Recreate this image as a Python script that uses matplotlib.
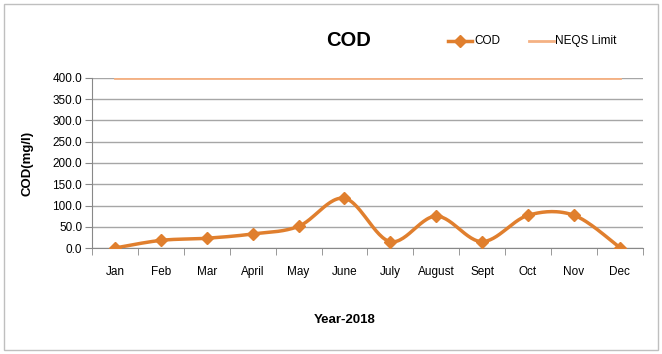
import numpy as np
import matplotlib.pyplot as plt
from matplotlib.patches import Rectangle

months = ["Jan", "Feb", "Mar", "April", "May", "June", "July",
          "August", "Sept", "Oct", "Nov", "Dec"]
cod = [0.0, 18.0, 23.0, 33.0, 51.0, 117.0, 15.0, 75.0, 15.0, 77.0, 77.0, 1.0]
neqs = [400.0] * 12

plt.rcParams['font.family'] = ["Liberation Sans", "DejaVu Sans"]


# Excel-like smoothed line (Catmull-Rom through the points)
def smooth(x, y, n=30):
    x = np.asarray(x, float)
    y = np.asarray(y, float)
    px = np.concatenate([[x[0]], x, [x[-1]]])
    py = np.concatenate([[y[0]], y, [y[-1]]])
    xs, ys = [], []
    t = np.linspace(0, 1, n)
    for i in range(1, len(px) - 2):
        for p, out in ((px, xs), (py, ys)):
            p0, p1, p2, p3 = p[i - 1], p[i], p[i + 1], p[i + 2]
            out.extend(0.5 * ((2 * p1) + (-p0 + p2) * t
                              + (2 * p0 - 5 * p1 + 4 * p2 - p3) * t ** 2
                              + (-p0 + 3 * p1 - 3 * p2 + p3) * t ** 3))
    return xs, ys


fig = plt.figure(figsize=(6.62, 3.54), dpi=100)
ax = fig.add_axes([0.139, 0.2994, 0.832, 0.4803])

x = np.arange(len(months))
sx, sy = smooth(x, cod)
cod_color = "#E07F2E"
neqs_color = "#F4B183"

ax.plot(x, neqs, color=neqs_color, lw=2, zorder=3)
ax.plot(sx, sy, color=cod_color, lw=2.5, zorder=4)
ax.plot(x, cod, ls="none", marker="D", ms=6, color=cod_color, zorder=5)

ax.set_xlim(-0.5, len(months) - 0.5)
ax.set_ylim(0, 400)
ax.set_yticks(np.arange(0, 401, 50))
ax.set_yticklabels([f"{v:.1f}" for v in np.arange(0, 401, 50)], fontsize=8.5)
ax.set_xticks(x)
ax.set_xticklabels(months, fontsize=8.5)
ax.set_xticks(np.arange(-0.5, len(months), 1), minor=True)
ax.tick_params(axis="x", which="major", length=0, pad=13)
ax.tick_params(axis="x", which="minor", length=5, color="#888888")
ax.tick_params(axis="y", length=5, color="#888888", pad=2)
ax.grid(axis="y", color="#A6A6A6", lw=1)
ax.set_axisbelow(True)
for s in ["top", "right"]:
    ax.spines[s].set_visible(False)
for s in ["left", "bottom"]:
    ax.spines[s].set_color("#888888")

ax.set_ylabel("COD(mg/l)", fontsize=9.5, fontweight="bold", labelpad=14)
fig.text(0.521, 0.097, "Year-2018", ha="center", va="center",
         fontsize=9.5, fontweight="bold")
fig.text(0.526, 0.885, "COD", ha="center", va="center",
         fontsize=14.5, fontweight="bold")

# legend drawn by hand to match placement
fig.add_artist(plt.Line2D([0.677, 0.695, 0.713], [0.885, 0.885, 0.885],
                          color=cod_color, lw=2.5, marker="D", ms=6,
                          markevery=[1], transform=fig.transFigure))
fig.text(0.716, 0.885, "COD", ha="left", va="center", fontsize=8.5)
fig.add_artist(plt.Line2D([0.799, 0.837], [0.885, 0.885], color=neqs_color, lw=2,
                          transform=fig.transFigure))
fig.text(0.839, 0.885, "NEQS Limit", ha="left", va="center", fontsize=8.5)

fig.add_artist(Rectangle((0.006, 0.012), 0.988, 0.976, fill=False,
                         ec="#BFBFBF", lw=1, transform=fig.transFigure))

fig.savefig("out.png", dpi=100)
